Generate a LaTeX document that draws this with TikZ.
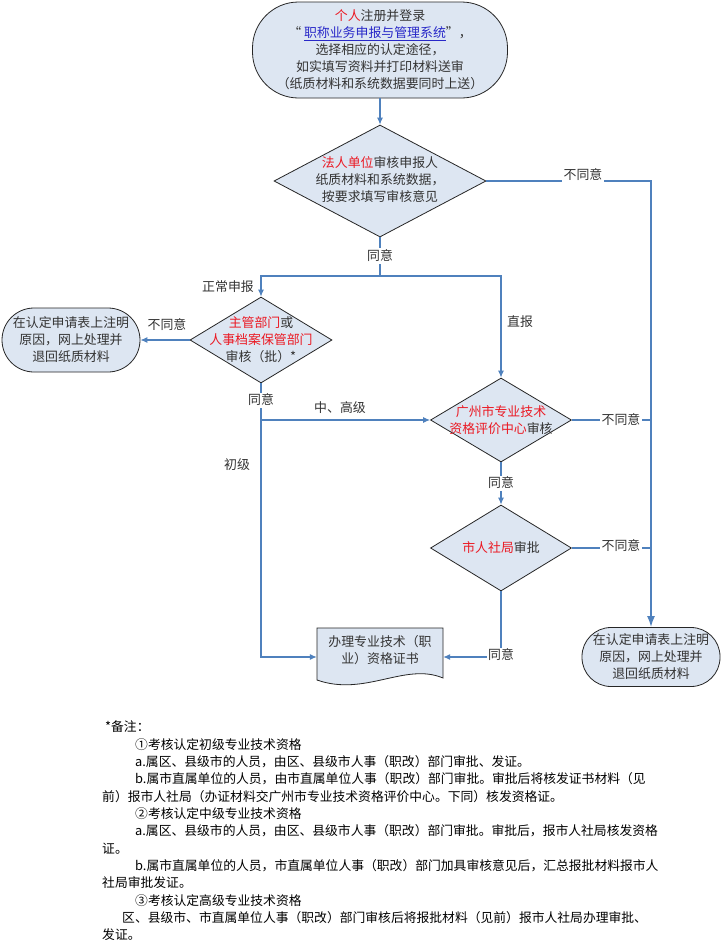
\documentclass[tikz,border=0pt]{standalone}
\usepackage{fontspec}
\setmainfont{Noto Sans CJK SC}
\usetikzlibrary{shapes.geometric,arrows.meta}
\definecolor{lineblue}{RGB}{79,129,189}
\definecolor{boxfill}{RGB}{221,230,242}
\definecolor{redtxt}{RGB}{235,25,35}
\definecolor{linkblue}{RGB}{40,40,200}
\newcommand\rd[1]{\textcolor{redtxt}{#1}}
\newcommand\dfont{\fontsize{12.9}{17}\selectfont}
\newcommand\nfont{\fontsize{12.8}{17}\selectfont}
\begin{document}
\begin{tikzpicture}[x=1pt,y=-1pt,
  flow/.style={draw=lineblue, line width=1.1pt},
  arr/.style={flow, -{Latex[length=7pt,width=6pt]}},
  bigarr/.style={draw=lineblue, line width=1.7pt, -{Latex[length=11pt,width=8pt]}},
  box/.style={draw=black!85, fill=boxfill, line width=0.8pt, inner sep=0pt},
  dia/.style={box, shape=diamond},
  txt/.style={align=center, font=\dfont, text=black!80, inner sep=0pt},
  lbl/.style={font=\dfont, text=black!80, fill=white, inner sep=1.5pt},
  plain/.style={font=\dfont, text=black!80, inner sep=0pt},
  note/.style={font=\nfont, text=black, anchor=west, inner sep=0pt}]
\useasboundingbox[fill=white] (0,0) rectangle (725,945);

% top start node
\node[box, rounded corners=46, minimum width=255, minimum height=96, txt] (top) at (380,50)
  {\rd{个人}注册并登录\\
   “ \textcolor{linkblue}{\underline{职称业务申报与管理系统}}”，\\
   选择相应的认定途径，\\
   如实填写资料并打印材料送审\\
   （纸质材料和系统数据要同时上送）};

% diamonds
\node[dia, minimum width=212, minimum height=112] (d1) at (380,181) {};
\node[txt] (d1t) at (380,180) {\rd{法人单位}审核申报人\\纸质材料和系统数据，\\按要求填写审核意见};

\node[dia, minimum width=142, minimum height=86] (d2) at (261,340) {};
\node[txt] (d2t) at (261,340) {\rd{主管部门}或\\\rd{人事档案保管部门}\\审核（批）*};

\node[dia, minimum width=141, minimum height=84] (d3) at (501,420) {};
\node[txt] (d3t) at (501,420) {\rd{广州市专业技术}\\\rd{资格评价中心}审核};

\node[dia, minimum width=141, minimum height=86] (d4) at (501,548) {};
\node[txt] (d4t) at (501,548) {\rd{市人社局}审批};

% reject nodes
\node[box, rounded corners=32, minimum width=138, minimum height=64, txt] (rej1) at (71,340)
  {在认定申请表上注明\\原因，网上处理并\\退回纸质材料};
\node[box, rounded corners=29, minimum width=138, minimum height=59, txt] (rej2) at (651,657)
  {在认定申请表上注明\\原因，网上处理并\\退回纸质材料};

% document node
\draw[box] (317,628) -- (443,628) -- (443,678)
  .. controls (405,662) and (365,697) .. (317,680) -- cycle;
\node[txt, minimum width=126, minimum height=44] (doc) at (380,650)
  {办理专业技术（职\\业）资格证书};

% junction coordinates
\coordinate (s1) at (380,276);
\coordinate (s2) at (261,420);
\coordinate (s4) at (501,657);
\coordinate (jr) at (651,548);

% connectors
\draw[arr] (top.south) -- (d1.north);
\draw[flow] (d1.south) -- (s1);
\draw[arr] (s1) -| (d2.north);
\draw[arr] (s1) -| (d3.north);
\draw[arr] (d2.west) -- (rej1.east);
\draw[flow] (d2.south) -- (s2);
\draw[arr] (s2) -- (d3.west);
\draw[arr] (s2) |- ([yshift=-7pt]doc.west);
\draw[arr] (d3.south) -- (d4.north);
\draw[flow] (d4.south) -- (s4);
\draw[arr] (s4) -- ([yshift=-7pt]doc.east);
\draw[flow] (d1.east) -| (jr);
\draw[flow] (d3.east) -- (d3.east -| jr);
\draw[flow] (d4.east) -- (jr);
\draw[bigarr] (jr) -- (rej2.north);

% connector labels
\node[lbl] (l1) at (583,175) {不同意};
\node[lbl] (l2) at (380,256) {同意};
\node[plain] (l3) at (228,287) {正常申报};
\node[plain] (l4) at (520,322) {直报};
\node[plain] (l5) at (167,325) {不同意};
\node[lbl] (l6) at (261,400) {同意};
\node[plain] (l7) at (340,408) {中、高级};
\node[plain] (l8) at (237,465) {初级};
\node[lbl] (l9) at (621,420) {不同意};
\node[lbl] (l10) at (501,483) {同意};
\node[lbl] (l11) at (621,546) {不同意};
\node[lbl] (l12) at (501,655) {同意};

% notes
\node[note] (n0) at (105,727) {*备注：};
\node[note] (n1) at (135,744.3) {①考核认定初级专业技术资格};
\node[note] (n2) at (135,761.7) {a.属区、县级市的人员，由区、县级市人事（职改）部门审批、发证。};
\node[note] (n3) at (135,779) {b.属市直属单位的人员，由市直属单位人事（职改）部门审批。审批后将核发证书材料（见};
\node[note] (n4) at (102,796.3) {前）报市人社局（办证材料交广州市专业技术资格评价中心。下同）核发资格证。};
\node[note] (n5) at (135,813.7) {②考核认定中级专业技术资格};
\node[note] (n6) at (135,831) {a.属区、县级市的人员，由区、县级市人事（职改）部门审批。审批后，报市人社局核发资格};
\node[note] (n7) at (102,848.3) {证。};
\node[note] (n8) at (135,865.7) {b.属市直属单位的人员，市直属单位人事（职改）部门加具审核意见后，汇总报批材料报市人};
\node[note] (n9) at (102,883) {社局审批发证。};
\node[note] (n10) at (135,900.3) {③考核认定高级专业技术资格};
\node[note] (n11) at (122,917.7) {区、县级市、市直属单位人事（职改）部门审核后将报批材料（见前）报市人社局办理审批、};
\node[note] (n12) at (102,935) {发证。};
\end{tikzpicture}
\end{document}
